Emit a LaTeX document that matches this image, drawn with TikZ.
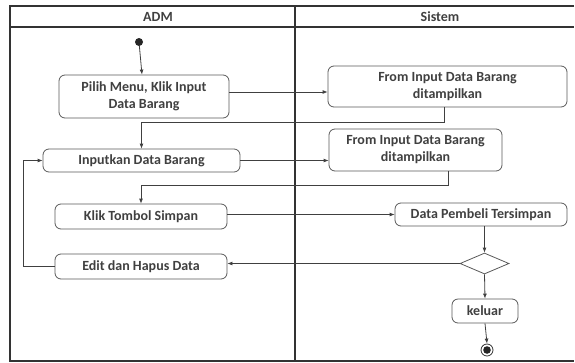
\documentclass[tikz,border=0pt]{standalone}
\usepackage{fontspec}
\setmainfont{Carlito}
\usetikzlibrary{arrows.meta, calc, positioning, shapes.geometric}

\begin{document}
\begin{tikzpicture}[x=1pt,y=-1pt,>={Latex[length=5pt,width=4pt]},
  every node/.style={font=\bfseries\fontsize{14}{17}\selectfont, text=black!75},
  act/.style={draw=black!65, rounded corners=6pt, align=center, inner sep=0pt, line width=0.8pt},
  flow/.style={draw=black!75, line width=0.8pt}]
  \useasboundingbox (0,0) rectangle (575,362);

  % swimlanes
  \draw[line width=1.2pt, black!80] (574,6) -- (10,6) -- (10,361) -- (574,361);
  \draw[line width=1.2pt, black!80] (10,27) -- (574,27) (295,6) -- (295,361);
  \node (adm) at (158,17) {ADM};
  \node (sis) at (440,17) {Sistem};

  \node[circle, fill=black!85, minimum size=8, inner sep=0pt] (start) at (139,42) {};
  \node[act, minimum width=170, minimum height=43] (pilih)  at (144,96.5)  {Pilih Menu, Klik Input\\Data Barang};
  \node[act, minimum width=197, minimum height=23] (input)  at (141.5,160.5) {Inputkan Data Barang};
  \node[act, minimum width=239, minimum height=41] (from_1) at (447.5,86.5) {From Input Data Barang\\ditampilkan};
  \node[act, minimum width=173, minimum height=42] (from_2) at (415.5,150)  {From Input Data Barang\\ditampilkan};
  \node[act, minimum width=172, minimum height=25] (klik)   at (141,216.5)  {Klik Tombol Simpan};
  \node[act, minimum width=172, minimum height=25] (edit)   at (141,266.5)  {Edit dan Hapus Data};
  \node[act, minimum width=172, minimum height=23] (data)   at (481,214.5)  {Data Pembeli Tersimpan};
  \node[diamond, draw=black!65, line width=0.8pt, minimum width=49, minimum height=21, inner sep=0pt, aspect=2.3] (dec) at (484.5,263.5) {};
  \node[act, minimum width=66, minimum height=24] (keluar) at (485,311) {keluar};
  \node[circle, draw=black!80, line width=0.8pt, minimum size=12, inner sep=0pt,
        path picture={\fill[black!85] (path picture bounding box.center) circle (3.8pt);}] (end) at (487,350) {};

  \coordinate (p_1) at ($(pilih.east)+(0,-4.5)$);
  \draw[flow,->] (start) -- (pilih);
  \draw[flow,->] (p_1) -- (p_1 -| from_1.west);
  \draw[flow,->] ($(from_1.south)+(-3.5,0)$) -- ++(0,15) -| (input.north);
  \draw[flow,->] (input.east) -- (input.east -| from_2.west);
  \draw[flow,->] ($(from_2.south)+(32.5,0)$) -- ++(0,14) -| (klik.north);
  \draw[flow,->] (klik.east |- data.west) -- (data.west);
  \draw[flow,->] (dec.north |- data.south) -- (dec.north);
  \draw[flow,->] (dec.west) -- (dec.west -| edit.east);
  \draw[flow,->] (edit.west) -- ++(-31,0) |- (input.west);
  \draw[flow,->] (dec.south) -- (keluar.north);
  \draw[flow,->] (keluar.south) -- (end.north);
\end{tikzpicture}
\end{document}
